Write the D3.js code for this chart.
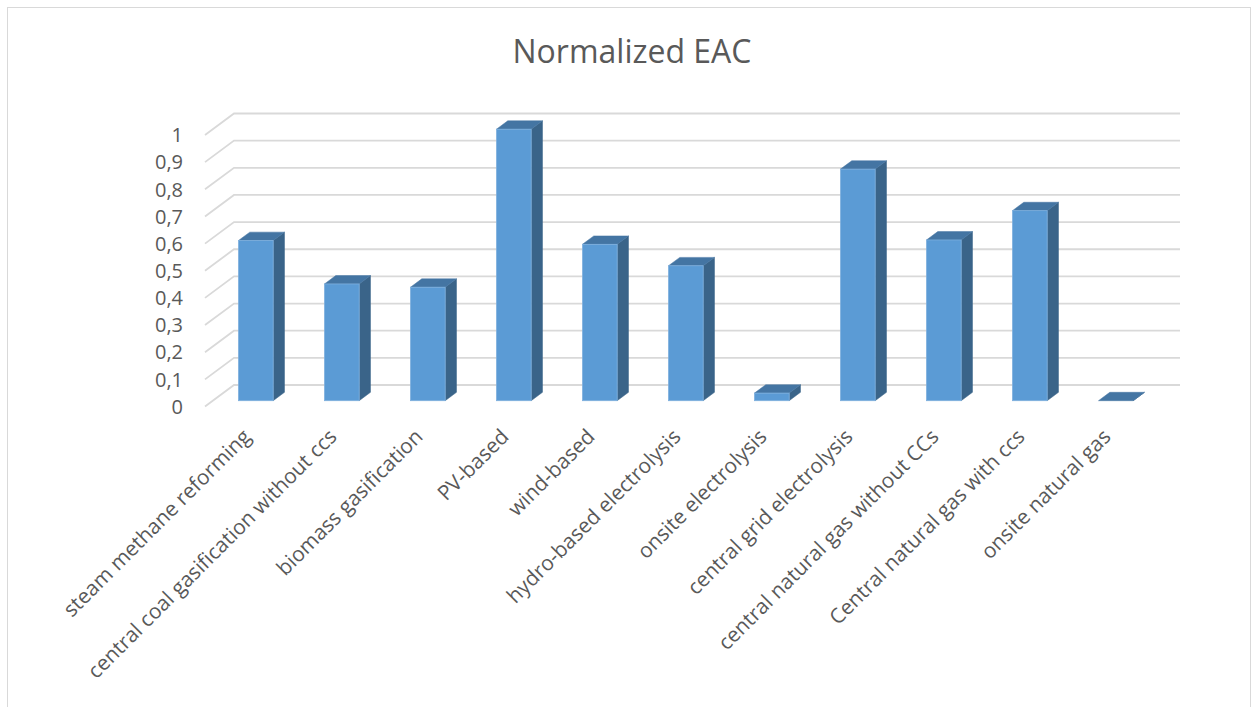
<!DOCTYPE html>
<html>
<head>
<meta charset="utf-8">
<script src="https://cdn.jsdelivr.net/npm/d3@7"></script>
<style>
  html, body { margin: 0; padding: 0; background: #fff; }
  svg { display: block; }
  text { font-family: "Open Sans", "Noto Sans", sans-serif; fill: #595959; }
</style>
</head>
<body>
<script>
// Technologies on the category axis
const categories = [
  "steam methane reforming",
  "central coal gasification without ccs",
  "biomass gasification",
  "PV-based",
  "wind-based",
  "hydro-based electrolysis",
  "onsite electrolysis",
  "central grid electrolysis",
  "central natural gas without CCs",
  "Central natural gas with ccs",
  "onsite natural gas"
];
// Normalized equivalent annual cost per technology
const values = [0.59, 0.43, 0.418, 1.0, 0.576, 0.497, 0.028, 0.853, 0.592, 0.70, 0.0];
// Value axis ticks
const ticks = [0, 0.1, 0.2, 0.3, 0.4, 0.5, 0.6, 0.7, 0.8, 0.9, 1];

const W = 1253, H = 707;
const svg = d3.select("body").append("svg").attr("width", W).attr("height", H);

// chart frame
svg.append("rect")
  .attr("x", 7.5).attr("y", 7.5).attr("width", W - 10).attr("height", H)
  .attr("fill", "#fff").attr("stroke", "#d9d9d9").attr("stroke-width", 1);

// title
svg.append("text")
  .attr("x", 632).attr("y", 63)
  .attr("text-anchor", "middle")
  .style("font-size", "32px")
  .text("Normalized EAC");

// oblique 3D projection: depth vector of the plot box
const depth = { dx: 29, dy: -21.5 };
const x = d3.scaleBand().domain(categories).range([205, 1151]);
const y = d3.scaleLinear().domain([0, 1]).range([406.5, 135]);
const backRight = 1180;

// gridlines: left wall diagonal + back wall horizontal
const grid = svg.append("g").attr("fill", "none").attr("stroke", "#d9d9d9").attr("stroke-width", 1.8);
ticks.forEach(t => {
  const yf = y(t);
  grid.append("path").attr("d", d3.line()([
    [205, yf], [205 + depth.dx, yf + depth.dy], [backRight, yf + depth.dy]
  ]));
});

// value axis labels (comma decimal)
const fmt = t => d3.format("~g")(t).replace(".", ",");
svg.append("g").selectAll("text").data(ticks).join("text")
  .attr("x", 183).attr("y", d => y(d))
  .attr("dy", "0.36em")
  .attr("text-anchor", "end")
  .style("font-size", "20px")
  .text(fmt);

// bars as prisms
const d1 = 0.27, d2 = 0.66;
const barW = 34.7;
const sx = depth.dx * (d2 - d1), sy = depth.dy * (d2 - d1);
const bars = svg.append("g");
categories.forEach((c, i) => {
  const cx = x(c) + x.bandwidth() / 2 + depth.dx * d1;
  const y0 = y(0) + depth.dy * d1;
  const yv = y(values[i]) + depth.dy * d1;
  const xl = cx - barW / 2, xr = cx + barW / 2;
  // side face
  bars.append("path")
    .attr("d", d3.line()([[xr, y0], [xr + sx, y0 + sy], [xr + sx, yv + sy], [xr, yv]]) + "Z")
    .attr("fill", "#3a6489").attr("stroke", "#3a6489").attr("stroke-width", 0.5);
  // top face
  bars.append("path")
    .attr("d", d3.line()([[xl, yv], [xl + sx, yv + sy], [xr + sx, yv + sy], [xr, yv]]) + "Z")
    .attr("fill", "#4475a3").attr("stroke", "#4475a3").attr("stroke-width", 0.5);
  // front face
  if (values[i] > 0) {
    bars.append("rect")
      .attr("x", xl).attr("y", yv).attr("width", barW).attr("height", y0 - yv)
      .attr("fill", "#5b9bd5").attr("stroke", "#7fb0de").attr("stroke-width", 0.8);
  }
});

// category labels, rotated
svg.append("g").selectAll("text").data(categories).join("text")
  .attr("transform", d => `translate(${x(d) + x.bandwidth() / 2 + 4},${438}) rotate(-45)`)
  .attr("text-anchor", "end")
  .style("font-size", "20.8px")
  .text(d => d);
</script>
</body>
</html>
